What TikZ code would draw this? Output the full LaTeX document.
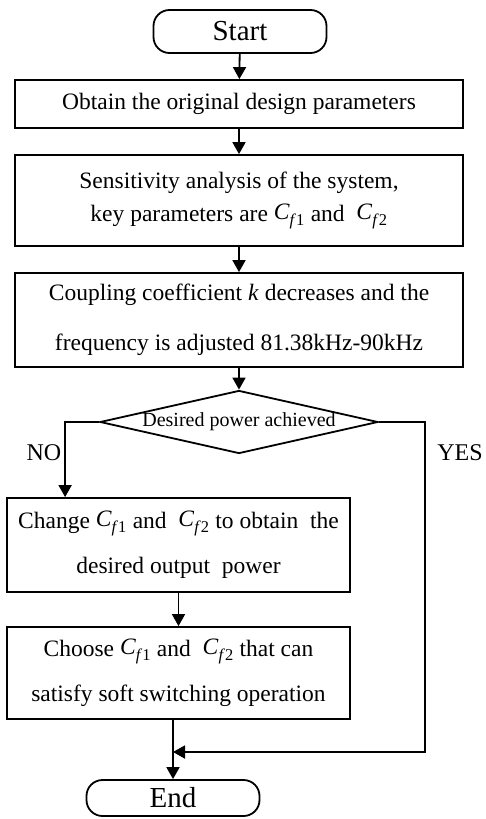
\documentclass[tikz,border=0pt]{standalone}
\usepackage{fontspec}
\setmainfont{Liberation Serif}
\usepackage{tikz}
\usetikzlibrary{arrows.meta, positioning, shapes.geometric, calc}

\newcommand{\Cf}[1]{\raisebox{2pt}{\textit{C}}\textsubscript{\textit{f}#1}}

\tikzset{
  stepbox/.style={draw, line width=1.8pt, minimum width=448pt, align=center,
    font=\fontsize{23.5}{45}\selectfont},
  termbox/.style={draw, line width=1.8pt, rounded corners=16pt, minimum width=173pt,
    font=\fontsize{29}{34}\selectfont},
  arr/.style={line width=1.8pt, -{Triangle[length=12pt,width=13pt]}}
}

\begin{document}
\begin{tikzpicture}[x=1pt, y=1pt]
  \useasboundingbox (0,0) rectangle (486,-819);
  % steps
  \node[termbox, minimum height=43pt] (start) at (240,-31.5) {Start};
  \node[stepbox, minimum height=48pt] (obtain) at (239,-104) {Obtain the original design parameters};
  \node[stepbox, minimum height=91pt, font=\fontsize{23.5}{33}\selectfont] (sens) at (239,-200.5)
    {Sensitivity analysis of the system,\\ key parameters are \Cf{1} and \ \Cf{2}};
  \node[stepbox, minimum height=94pt, font=\fontsize{23.5}{50}\selectfont] (coupling) at (239,-320)
    {Coupling coefficient \textit{k} decreases and the\\ frequency is adjusted 81.38kHz-90kHz};
  \node[diamond, draw, line width=1.8pt, minimum width=278pt, minimum height=63pt, inner sep=0pt,
    label={[font=\fontsize{20}{24}\selectfont]center:Desired power achieved}] (power) at (239,-422) {};
  \node[stepbox, minimum width=343pt, minimum height=94pt] (change) at (178.5,-545)
    {Change \Cf{1} and \ \Cf{2} to obtain \ the\\ desired output \ power};
  \node[stepbox, minimum width=343pt, minimum height=92pt] (choose) at (178.5,-673)
    {Choose \Cf{1} and \ \Cf{2} that can\\ satisfy soft switching operation};
  \node[termbox, minimum height=36pt] (end) at (173,-798) {End};
  % branch labels
  \node[font=\fontsize{24}{28}\selectfont] (no) at (44,-453) {NO};
  \node[font=\fontsize{24}{28}\selectfont] (yes) at (460,-453) {YES};
  % connectors
  \draw[arr] (start) -- (obtain);
  \draw[arr] (obtain) -- (sens);
  \draw[arr] (sens) -- (coupling);
  \draw[arr] (coupling) -- (power);
  \draw[arr] (power.west) -| ([xshift=59pt]change.north west);
  \draw[arr] (change) -- (choose);
  \draw[arr] (choose.south -| end.north) -- (end.north);
  \coordinate (yesturn) at (425,-752);
  \coordinate (join) at (end.north |- yesturn);
  \draw[arr] (power.east) -| (yesturn) -- (join);
\end{tikzpicture}
\end{document}
